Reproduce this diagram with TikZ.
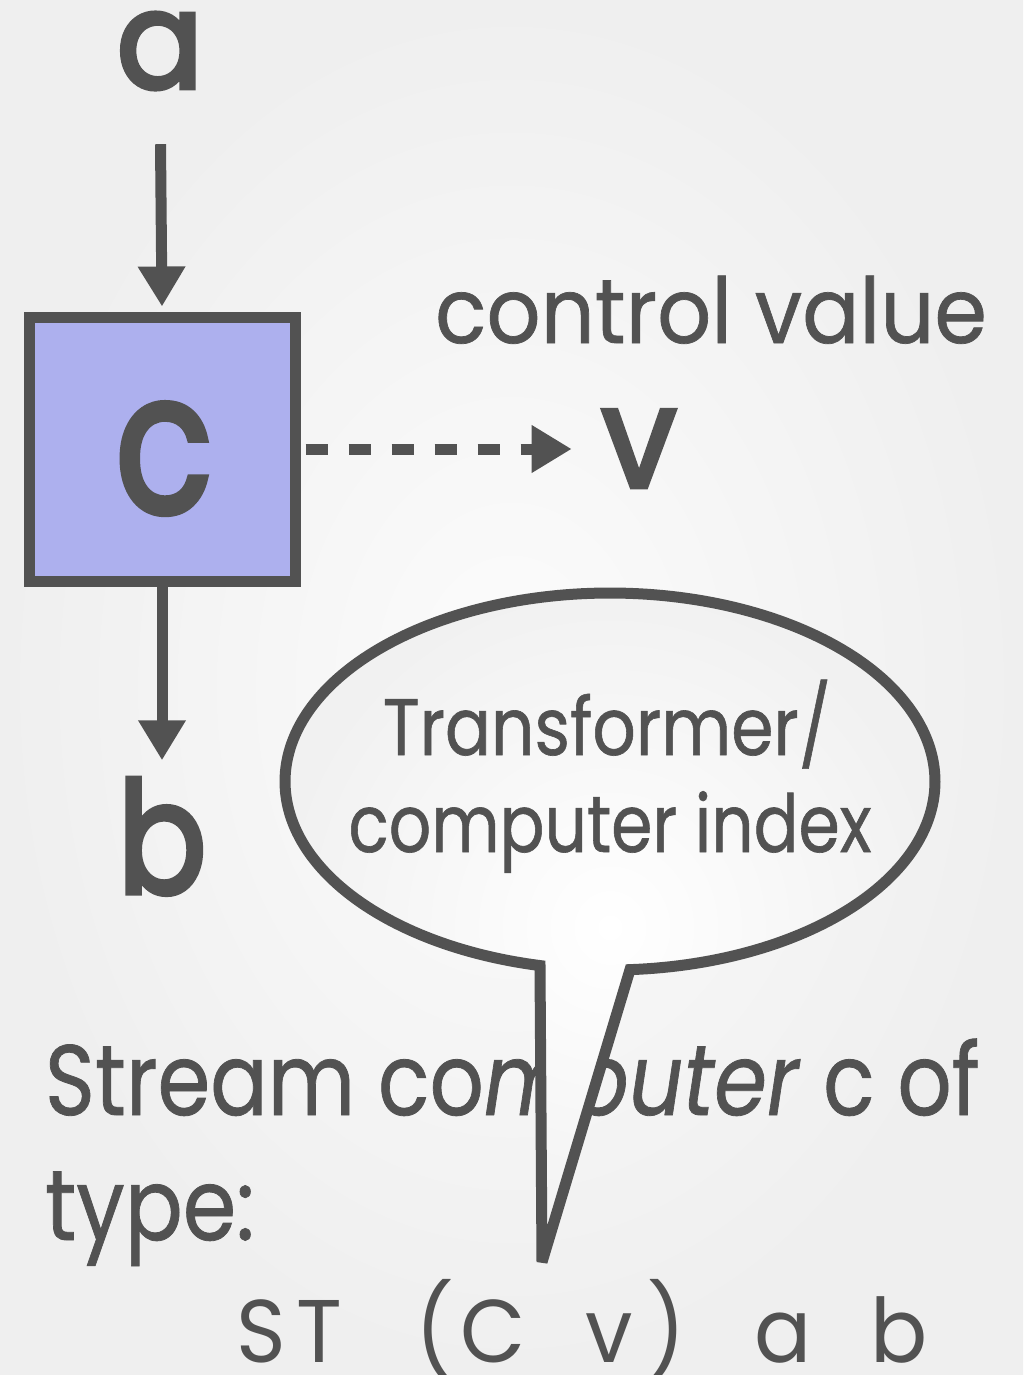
\documentclass[tikz,border=0pt]{standalone}
\usepackage{fontspec}
\setmainfont{Poppins}[FakeBold=0.8]
\newfontfamily\demifont{Poppins}[FakeBold=3.5]
\newfontfamily\thinfont{Poppins}
\usetikzlibrary{arrows.meta}
\definecolor{ink}{HTML}{525252}
\definecolor{boxfill}{HTML}{ADB0EE}
\definecolor{bgin}{HTML}{FCFCFC}
\definecolor{bgout}{HTML}{EFEFEF}
\newcommand\fsz[1]{\fontsize{#1pt}{#1pt}\selectfont}
% horizontally condensed text
\newcommand\narrow[2]{\scalebox{#1}[1]{#2}}
% one fixed-width character cell of the type signature
\newcommand\cell[1]{\makebox[58pt]{\narrow{0.95}{#1}}}
\begin{document}
\begin{tikzpicture}[x=1pt,y=-1pt,
  lbl/.style={text=ink, inner sep=0pt, outer sep=0pt, anchor=base},
  biglbl/.style={lbl, font=\fsz{#1}\demifont},
  flow/.style={draw=ink, line width=11pt, -{Triangle[length=40pt,width=45pt]}},
  compbox/.style={draw=ink, fill=boxfill, line width=11pt, inner sep=0pt,
    minimum width=266pt, minimum height=264pt},
  balloon/.style={draw=ink, line width=11pt, line join=miter, miter limit=4,
    inner color=white, outer color=bgout!85!white}]
% page background
\shade[inner color=bgin, outer color=bgout] (0,0) rectangle (1023,1375);
\useasboundingbox (0,0) rectangle (1023,1375);

% stream computer and its ports
\node[compbox] (comp) at (162,449) {};
\node[biglbl=195] (cname) at (164,512) {\narrow{0.82}{c}};
\node[biglbl=135] (ina) at (160,88) {\narrow{0.95}{a}};
\node[biglbl=155] (outb) at (162,893) {\narrow{0.85}{b}};
\node[biglbl=140] (outv) at (639,487) {\narrow{0.95}{v}};
\node[lbl, font=\fsz{91}] (ctl) at (711,343) {\narrow{0.93}{control value}};

\draw[flow, shorten <=55pt] (ina.south) -- ([yshift=5pt]comp.north);
\draw[flow, shorten >=18pt] (comp.south) -- (outb.north);
\draw[flow, dash pattern=on 22pt off 21pt, shorten >=30pt]
  ([xshift=5pt]comp.east) -- (comp.east -| outv.west);

% caption text (partly hidden behind the balloon tail)
\node[lbl, anchor=base west, font=\fsz{100}] (cap1) at (45,1115)
  {\narrow{0.85}{Stream co\textit{mputer} c of}};
\node[lbl, anchor=base west, font=\fsz{100}] (cap2) at (45,1240)
  {\narrow{0.86}{type:}};
\node[lbl, anchor=base west, font=\fsz{89}\thinfont] (sig) at (232,1362)
  {\cell{S}\cell{T}\cell{}\cell{(}\cell{C}\cell{}\cell{v}\cell{)}\cell{}\cell{a}\cell{}\cell{b}};

% speech balloon
\coordinate (tailtip) at (542,1262);
\path[balloon] plot[domain=102.44:446.47, samples=240]
  ({610+325*cos(\x)}, {781.5+188.5*sin(\x)}) -- (tailtip) -- cycle;
\node[lbl, font=\fsz{80}] (note1) at (607,755) {\narrow{0.85}{Transformer/}};
\node[lbl, font=\fsz{80}] (note2) at (610,852) {\narrow{0.83}{computer index}};
\end{tikzpicture}
\end{document}
